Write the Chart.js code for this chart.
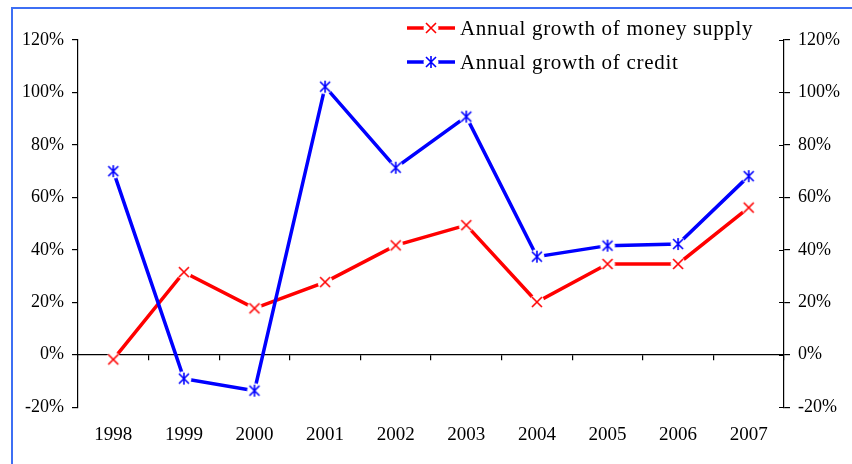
<!DOCTYPE html>
<html>
<head>
<meta charset="utf-8">
<script src="https://cdn.jsdelivr.net/npm/chart.js@4/dist/chart.umd.min.js"></script>
<style>
  html, body { margin: 0; padding: 0; background: #fff; }
  #wrap { position: relative; width: 852px; height: 464px; overflow: hidden; }
  #frame {
    position: absolute; left: 11px; top: 7px; right: -10px; bottom: -10px;
    border-left: 2px solid #3e6ff4; border-top: 2px solid #3e6ff4;
    pointer-events: none;
  }
  canvas { position: absolute; left: 0; top: 0; }
</style>
</head>
<body>
<div id="wrap">
  <canvas id="growth" width="852" height="464"></canvas>
  <div id="frame"></div>
</div>
<script>
const years = ['1998', '1999', '2000', '2001', '2002', '2003', '2004', '2005', '2006', '2007'];
const moneySupply = [-1.8, 31.5, 17.7, 27.7, 41.7, 49.4, 20.1, 34.6, 34.6, 56.1];
const credit = [70.0, -9.1, -13.7, 102.2, 71.3, 90.8, 37.4, 41.6, 42.2, 68.1];
const percentTicks = [-20, 0, 20, 40, 60, 80, 100, 120];

const serif = '"Liberation Serif", "Times New Roman", serif';

// Excel-like markers: a white disk behind the glyph leaves a gap in the line
function makeMarker(color, star) {
  const c = document.createElement('canvas');
  c.width = 18; c.height = 18;
  const g = c.getContext('2d');
  g.fillStyle = '#fff';
  g.beginPath(); g.arc(9, 9, 7.5, 0, Math.PI * 2); g.fill();
  g.strokeStyle = color;
  g.lineWidth = 1.6;
  g.beginPath();
  g.moveTo(4, 4); g.lineTo(14, 14);
  g.moveTo(14, 4); g.lineTo(4, 14);
  if (star) { g.moveTo(9, 3); g.lineTo(9, 15); }
  g.stroke();
  return c;
}

const redX = makeMarker('#ff0000', false);
const blueStar = makeMarker('#0000ff', true);

const cornerLegend = {
  id: 'cornerLegend',
  afterDraw(chart) {
    const ctx = chart.ctx;
    ctx.save();
    ctx.font = '21px ' + serif;
    ctx.letterSpacing = '0.7px';
    ctx.textBaseline = 'middle';
    chart.data.datasets.forEach((ds, i) => {
      const y = 28 + i * 34;
      ctx.strokeStyle = ds.borderColor;
      ctx.lineWidth = 3.5;
      ctx.beginPath();
      ctx.moveTo(407, y);
      ctx.lineTo(455, y);
      ctx.stroke();
      ctx.drawImage(ds.pointStyle, 431 - 9, y - 9);
      ctx.fillStyle = '#000';
      ctx.fillText(ds.label, 460, y + 1);
    });
    ctx.restore();
  }
};

// right-hand value axis has ticks that cross the axis line
const crossTicks = {
  id: 'crossTicks',
  afterDraw(chart) {
    const s = chart.scales.y2;
    const ctx = chart.ctx;
    ctx.save();
    ctx.strokeStyle = '#000';
    ctx.lineWidth = 1.2;
    ctx.beginPath();
    percentTicks.forEach(v => {
      const py = Math.round(s.getPixelForValue(v)) + 0.5;
      ctx.moveTo(s.left - 5, py);
      ctx.lineTo(s.left, py);
    });
    ctx.stroke();
    ctx.restore();
  }
};

const valueAxis = (pos) => ({
  type: 'linear',
  position: pos,
  min: -20,
  max: 120,
  afterBuildTicks: (axis) => { axis.ticks = percentTicks.map(v => ({ value: v })); },
  grid: { drawOnChartArea: false, color: '#000', tickLength: 6, lineWidth: 1.2 },
  border: { color: '#000', width: 1.2 },
  ticks: {
    color: '#000',
    padding: 8,
    font: { family: serif, size: 18 },
    callback: v => v + '%'
  }
});

new Chart(document.getElementById('growth').getContext('2d'), {
  type: 'line',
  data: {
    labels: years,
    datasets: [{
      label: 'Annual growth of money supply',
      data: moneySupply,
      borderColor: '#ff0000',
      borderWidth: 3.5,
      pointStyle: redX,
      order: 1
    }, {
      label: 'Annual growth of credit',
      data: credit,
      borderColor: '#0000ff',
      borderWidth: 3.5,
      pointStyle: blueStar,
      order: 0
    }]
  },
  options: {
    responsive: false,
    animation: false,
    devicePixelRatio: 1,
    layout: { padding: { left: 14, right: 4, top: 40, bottom: 2 } },
    elements: { line: { tension: 0 } },
    plugins: { legend: { display: false }, tooltip: { enabled: false } },
    scales: {
      x: {
        type: 'category',
        position: 'bottom',
        offset: true,
        grid: { display: false, drawTicks: false },
        border: { display: false },
        ticks: { color: '#000', padding: 16, maxRotation: 0, font: { family: serif, size: 19 } }
      },
      xZero: {
        type: 'category',
        axis: 'x',
        position: { y: 0 },
        offset: true,
        grid: { drawOnChartArea: false, offset: true, color: '#000', tickLength: 5, lineWidth: 1.2 },
        border: { color: '#000', width: 1.2 },
        ticks: { display: false }
      },
      y: valueAxis('left'),
      y2: valueAxis('right')
    }
  },
  plugins: [cornerLegend, crossTicks]
});
</script>
</body>
</html>
